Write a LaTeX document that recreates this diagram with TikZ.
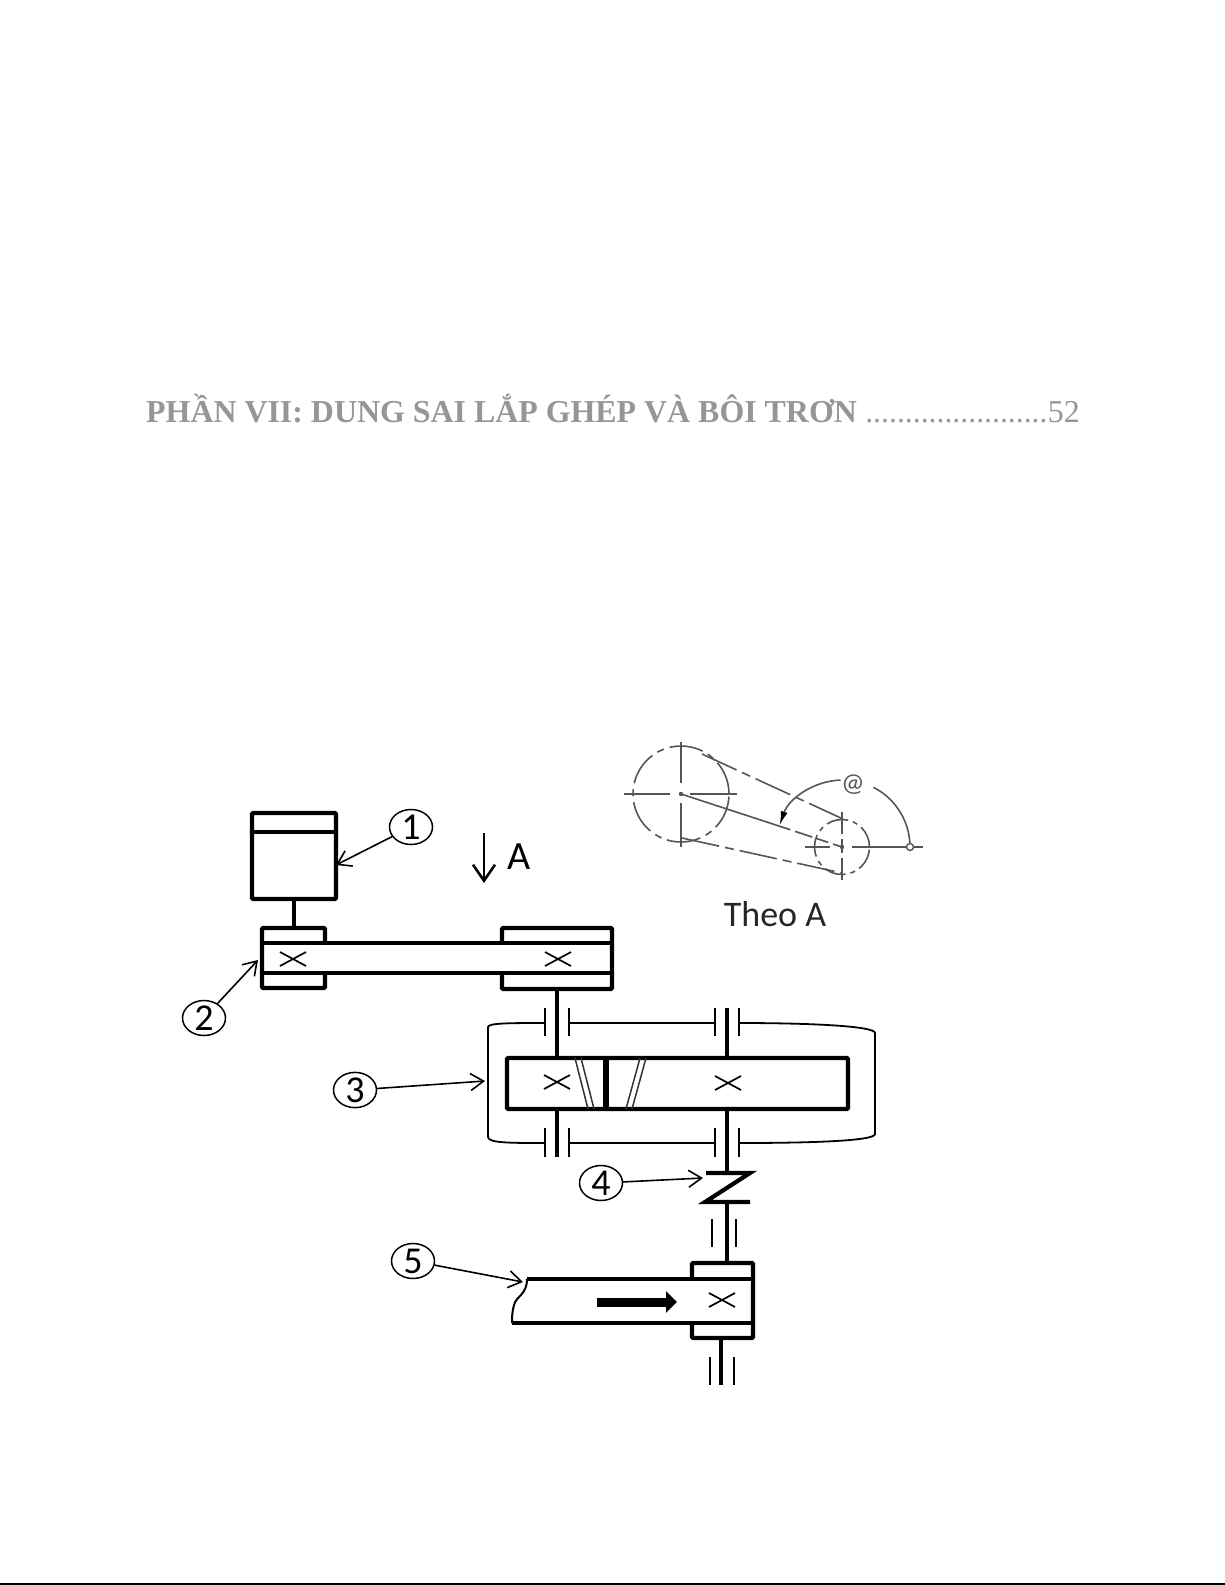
\documentclass[tikz,border=0pt]{standalone}
\usepackage{fontspec}
\setmainfont{Liberation Serif}
\newfontfamily\labelFont{Carlito}
\usetikzlibrary{positioning}
\usetikzlibrary{arrows.meta}
\usetikzlibrary{shapes.geometric}
\definecolor{headColor}{RGB}{150,150,150}
\definecolor{sketchColor}{RGB}{85,85,85}
\tikzstyle{sheet} = [x = 1pt, y = -1pt]
\tikzstyle{heavyLine} = [color=black, line width=4.2pt, rounded corners = 1pt]
\tikzstyle{shaftLine} = [color=black, line width=4.8pt]
\tikzstyle{thinLine} = [color=black, line width=1.8pt]
\tikzstyle{bearingLine} = [color=black, line width=2pt]
\tikzstyle{crossLine} = [color=black, line width=1.7pt]
\tikzstyle{helixLine} = [color=black!80, line width=1.5pt]
\tikzstyle{leaderLine} = [color=black, line width=1.6pt, -{Straight Barb[length=13pt, width=17pt]}]
\tikzstyle{partLabel} = [ellipse, draw, line width=1.5pt, minimum width=43pt, minimum height=35pt, inner sep=0pt, font=\labelFont\fontsize{38}{38}\selectfont]
\tikzstyle{headText} = [color=headColor, inner sep=0pt, anchor=base west, font=\fontsize{31.9}{32}\selectfont]
\tikzstyle{sketchSolid} = [color=sketchColor, line width=1.6pt]
\tikzstyle{sketchCentre} = [color=sketchColor, line width=1.6pt, dash pattern=on 34pt off 6pt on 7pt off 6pt]
\tikzstyle{sketchBelt} = [color=sketchColor, line width=1.6pt, dash pattern=on 38pt off 6pt on 9pt off 6pt]
\newcommand{\crossMark}[2]{\draw [crossLine] (#1 - 13, #2 - 7) -- (#1 + 13, #2 + 7) (#1 - 13, #2 + 7) -- (#1 + 13, #2 - 7);}
\newcommand{\bearingPair}[3]{\draw [bearingLine] (#1 - 12, #2) -- (#1 - 12, #3) (#1 + 12, #2) -- (#1 + 12, #3);}
\newcommand{\pulleyOpen}[6]{\draw [heavyLine] (#1, #4) -- (#1, #2) -- (#5, #2) -- (#5, #3) -- (#1, #3) -- (#1, #6);}
\newcommand{\centreDot}[2]{\fill [color=sketchColor] (#1, #2) circle (2.2pt);}
\begin{document}
\begin{tikzpicture}[sheet]
  \useasboundingbox (0, 0) rectangle (1225, 1585);
  \draw [color=black, line width=1.5pt] (0, 1584) -- (1225, 1584);

  % heading
  \node [headText] (headTitle) at (146, 422) {\bfseries PHẦN VII: DUNG SAI LẮP GHÉP VÀ BÔI TRƠN};
  \node [headText, right = 8pt of headTitle.base east, anchor=base west, font=\fontsize{31.7}{32}\selectfont] (headDots) {.......................};
  \node [headText, right = 0pt of headDots.base east, anchor=base west] (headPage) {52};

  % motor
  \draw [heavyLine] (252, 813) rectangle (336, 899);
  \draw [heavyLine] (252, 832) -- (336, 832);
  \draw [shaftLine] (294, 899) -- (294, 928);

  % belt drive
  \pulleyOpen{325}{928}{988}{943}{262}{973}
  \pulleyOpen{502}{928}{989}{943}{612}{973}
  \draw [heavyLine] (262, 943) -- (612, 943);
  \draw [heavyLine] (262, 973) -- (612, 973);
  \crossMark{293}{959}
  \crossMark{558}{959}
  \draw [shaftLine] (557, 989) -- (557, 1058);

  % gearbox
  \draw [heavyLine] (507, 1058) rectangle (848, 1109);
  \draw [line width=5.5pt] (606, 1058) -- (606, 1109);
  \draw [helixLine] (575, 1058) -- (588, 1109) (581, 1058) -- (594, 1109);
  \draw [helixLine] (640, 1058) -- (626, 1109) (646, 1058) -- (632, 1109);
  \crossMark{557}{1082}
  \crossMark{728}{1083}
  \draw [shaftLine] (727, 1008) -- (727, 1058);
  \draw [shaftLine] (557, 1109) -- (557, 1157);
  \draw [shaftLine] (727, 1109) -- (727, 1173);
  \foreach \shaftPos in {557, 727} {
    \bearingPair{\shaftPos}{1008}{1036}
    \bearingPair{\shaftPos}{1128}{1157}
  }
  \draw [thinLine] (569, 1023) -- (715, 1023);
  \draw [thinLine] (569, 1143) -- (715, 1143);
  \draw [thinLine] (545, 1023) .. controls (510, 1023) and (488, 1023) .. (488, 1027) -- (488, 1137) .. controls (488, 1143) and (510, 1143) .. (545, 1143);
  \draw [thinLine] (739, 1023) .. controls (810, 1023) and (875, 1026) .. (875, 1033) -- (875, 1134) .. controls (875, 1141) and (810, 1143) .. (739, 1143);

  % coupling
  \draw [heavyLine, rounded corners = 0pt] (706, 1173) -- (750, 1173) -- (705, 1202) -- (750, 1202);
  \draw [shaftLine] (727, 1202) -- (727, 1263);
  \bearingPair{724}{1219}{1247}

  % conveyor
  \pulleyOpen{692}{1263}{1338}{1279}{753}{1323}
  \draw [heavyLine] (527, 1279) -- (753, 1279);
  \draw [heavyLine] (512, 1323) -- (753, 1323);
  \draw [color=black, line width=2pt] (527, 1279) .. controls (527, 1295) and (516, 1296) .. (514, 1305) .. controls (512, 1312) and (512, 1318) .. (512, 1323);
  \crossMark{722}{1300}
  \draw [line width=9pt, -{Triangle[length=11pt, width=21pt]}] (597, 1302) -- (677, 1302);
  \draw [shaftLine] (721, 1338) -- (721, 1385);
  \bearingPair{722}{1357}{1385}

  % part labels
  \node [partLabel] (partOne) at (411, 827) {1};
  \node [partLabel] (partTwo) at (204, 1018) {2};
  \node [partLabel] (partThree) at (355, 1090) {3};
  \node [partLabel] (partFour) at (601, 1183) {4};
  \node [partLabel] (partFive) at (413, 1261) {5};
  \coordinate (motorEdge) at (336, 865);
  \coordinate (beltEdge) at (258, 960);
  \coordinate (boxEdge) at (485, 1081);
  \coordinate (clutchEdge) at (703, 1178);
  \coordinate (conveyorEdge) at (523, 1282);
  \draw [leaderLine] (partOne) -- (motorEdge);
  \draw [leaderLine] (partTwo) -- (beltEdge);
  \draw [leaderLine] (partThree) -- (boxEdge);
  \draw [leaderLine] (partFour) -- (clutchEdge);
  \draw [leaderLine] (partFive) -- (conveyorEdge);

  % view arrow
  \coordinate (viewStart) at (484, 833);
  \coordinate (viewEnd) at (484, 883);
  \draw [line width=2.6pt, -{Straight Barb[length=16pt, width=22pt]}] (viewStart) -- (viewEnd);
  \node [inner sep=0pt, font=\labelFont\fontsize{40}{40}\selectfont] (viewLabel) at (519, 857) {A};

  % side view
  \draw [sketchCentre] (681, 794) circle (48pt);
  \draw [sketchCentre, dash pattern=on 22pt off 5pt on 5pt off 5pt] (842, 847) circle (27.5pt);
  \draw [sketchSolid] (624, 794) -- (670, 794) (690, 794) -- (737, 794);
  \draw [sketchSolid] (681, 742) -- (681, 783) (681, 803) -- (681, 847);
  \draw [sketchSolid] (805, 847) -- (830, 847) (852, 847) -- (923, 847);
  \draw [sketchSolid, dash pattern=on 22pt off 5pt on 14pt off 5pt] (842, 812) -- (842, 882);
  \centreDot{681}{794}
  \centreDot{842}{847}
  \draw [sketchBelt] (702, 754) -- (843, 819);
  \draw [sketchBelt] (682, 838) -- (842, 873);
  \draw [sketchSolid] (681, 794) -- (779, 826);
  \draw [sketchBelt, dash pattern=on 12pt off 5pt on 18pt off 5pt] (779, 826) -- (842, 847);
  \draw [sketchSolid, {Latex[length=14pt, width=7pt, color=black]}-] (843, 847) ++ (-161:67) arc [start angle=-161, end angle=-92, radius=67];
  \draw [sketchSolid] (843, 847) ++ (-63:67) arc [start angle=-63, end angle=0, radius=67];
  \node [circle, draw=sketchColor, fill=white, line width=1.4pt, inner sep=0pt, minimum size=7pt] (arcEnd) at (910, 847) {};
  \node [color=sketchColor, inner sep=0pt, font=\labelFont\fontsize{26}{26}\selectfont] (angleLabel) at (853, 785) {@};
  \node [inner sep=0pt, font=\labelFont\fontsize{36}{36}\selectfont, color=black!85] (viewCaption) at (775, 914) {Theo A};
\end{tikzpicture}
\end{document}
